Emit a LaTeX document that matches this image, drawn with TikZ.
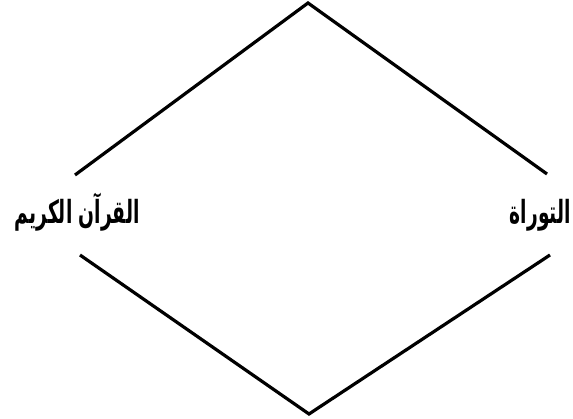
\documentclass[tikz,border=0pt]{standalone}
\usepackage{fontspec}
\newfontfamily\arabicfont[Script=Arabic]{DejaVu Sans}
\TeXXeTstate=1

\begin{document}
\begin{tikzpicture}[x=1pt, y=1pt,
  edge/.style={line width=3.2pt, line join=miter},
  book/.style={font=\arabicfont\bfseries\fontsize{22}{26}\selectfont, inner sep=0pt,
    anchor=base east, xscale=0.85, yscale=1.45, transform shape}
]
  \useasboundingbox (0,0) rectangle (573,419);

  % labels at the side corners
  \node[book] (quran) at (140,195) {\beginR القرآن الكريم\endR};
  \node[book] (torah) at (571,195) {\beginR التوراة\endR};

  \coordinate (top) at (308,416);
  \coordinate (bottom) at (309,5);
  \coordinate (quranup) at (75,244);
  \coordinate (qurandown) at (80,164);
  \coordinate (torahup) at (547,245);
  \coordinate (torahdown) at (550,164);

  \draw[edge] (quranup) -- (top) -- (torahup);
  \draw[edge] (qurandown) -- (bottom) -- (torahdown);
\end{tikzpicture}
\end{document}
